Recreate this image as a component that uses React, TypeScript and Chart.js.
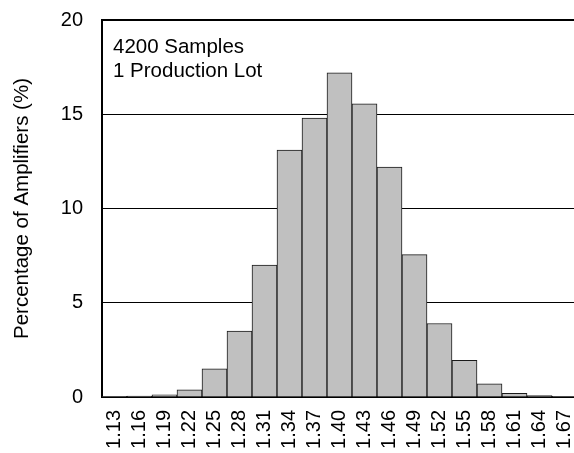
import React, { useEffect, useRef } from "react";
import { Chart, registerables } from "chart.js";

Chart.register(...registerables);

const categories = [
  "1.13", "1.16", "1.19", "1.22", "1.25", "1.28", "1.31", "1.34", "1.37", "1.40",
  "1.43", "1.46", "1.49", "1.52", "1.55", "1.58", "1.61", "1.64", "1.67",
];
const percentages = [
  0.02, 0.05, 0.12, 0.38, 1.5, 3.5, 7.0, 13.1, 14.8, 17.2,
  15.55, 12.2, 7.55, 3.9, 1.95, 0.7, 0.2, 0.08, 0.02,
];
const yMin = 0;
const yMax = 20;
const yStep = 5;
const yTitle = "Percentage of Amplifiers (%)";
const annotationLines = ["4200 Samples", "1 Production Lot"];

const FONT = "'Liberation Sans', Arial, Helvetica, sans-serif";

const annotationPlugin = {
  id: "annotationText",
  afterDraw(chart: any) {
    const { ctx, chartArea } = chart;
    ctx.save();
    ctx.fillStyle = "#000";
    ctx.font = `20.5px ${FONT}`;
    ctx.textAlign = "left";
    ctx.textBaseline = "alphabetic";
    annotationLines.forEach((line, i) => {
      ctx.fillText(line, chartArea.left + 11, chartArea.top + 32.5 + i * 24.3);
    });
    ctx.restore();
  },
};

function zeroPadding(scale: any) {
  scale.paddingLeft = 0;
  scale.paddingRight = 0;
  scale.paddingTop = 0;
  scale.paddingBottom = 0;
}

export default function App() {
  const canvasRef = useRef<HTMLCanvasElement | null>(null);

  useEffect(() => {
    if (!canvasRef.current) return;
    const chart = new Chart(canvasRef.current, {
      type: "bar",
      data: {
        labels: categories,
        datasets: [
          {
            data: percentages,
            backgroundColor: "#c0c0c0",
            borderColor: "#1a1a1a",
            borderWidth: 1,
            categoryPercentage: 1,
            barPercentage: 1,
          },
        ],
      },
      plugins: [annotationPlugin],
      options: {
        animation: false,
        responsive: true,
        maintainAspectRatio: false,
        layout: { padding: { top: 20, right: 3, bottom: 0, left: 0 } },
        plugins: {
          legend: { display: false },
          tooltip: { enabled: false },
        },
        scales: {
          x: {
            grid: { display: false, drawTicks: false },
            border: { display: true, color: "#000", width: 2 },
            ticks: {
              color: "#000",
              font: { family: FONT, size: 20 },
              minRotation: 90,
              maxRotation: 90,
              autoSkip: false,
              padding: 13,
            },
            afterFit(scale: any) {
              scale.height = 56;
              zeroPadding(scale);
            },
          },
          y: {
            min: yMin,
            max: yMax,
            grid: {
              color: "#000",
              lineWidth: (c: any) => (c.tick && c.tick.value === yMax ? 2 : 1),
              drawTicks: false,
            },
            border: { display: true, color: "#000", width: 2 },
            ticks: {
              stepSize: yStep,
              color: "#000",
              font: { family: FONT, size: 20 },
              padding: 19,
            },
            title: {
              display: true,
              text: yTitle,
              color: "#000",
              font: { family: FONT, size: 20.5 },
              padding: { top: 10, bottom: 0 },
            },
            afterFit(scale: any) {
              scale.width = 102;
              zeroPadding(scale);
            },
          },
        },
      },
    });
    return () => chart.destroy();
  }, []);

  return (
    <div
      style={{
        position: "absolute",
        left: 0,
        top: 0,
        width: 580,
        height: 453,
        background: "#fff",
      }}
    >
      <canvas ref={canvasRef} />
    </div>
  );
}
